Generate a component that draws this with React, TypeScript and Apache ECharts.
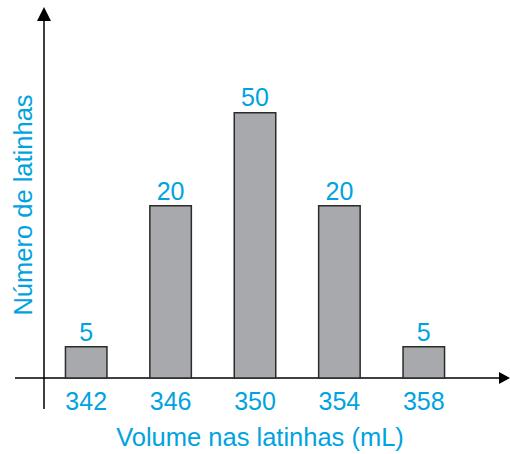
import React, { useEffect, useRef } from "react";
import * as echarts from "echarts";

const categories = ["342", "346", "350", "354", "358"];
const counts = [5, 20, 50, 20, 5];
const xTitle = "Volume nas latinhas (mL)";
const yTitle = "Número de latinhas";

const BLUE = "#00a3e0";
const FONT = "'Liberation Sans', Arial, Helvetica, sans-serif";

export default function App() {
  const ref = useRef<HTMLDivElement>(null);
  useEffect(() => {
    if (!ref.current) return;
    const chart = echarts.init(ref.current, null, { renderer: "svg" });
    chart.setOption({
      animation: false,
      backgroundColor: "#ffffff",
      grid: { left: 44, right: 44, top: 10, bottom: 76 },
      xAxis: {
        type: "category",
        data: categories,
        axisLine: { show: false },
        axisTick: { show: false },
        axisLabel: { color: BLUE, fontSize: 25, fontFamily: FONT, margin: 10 },
      },
      yAxis: {
        type: "log",
        min: 3.65,
        max: 136.4,
        show: false,
        splitLine: { show: false },
      },
      series: [
        {
          type: "bar",
          data: counts,
          barWidth: 43,
          clip: true,
          itemStyle: { color: "#a7a9ac", borderColor: "#2b2b2b", borderWidth: 1.5 },
          label: {
            show: true,
            position: "top",
            distance: 2,
            color: BLUE,
            fontSize: 25,
            fontFamily: FONT,
          },
        },
      ],
      graphic: [
        { type: "line", shape: { x1: 44, y1: 409, x2: 44, y2: 18 }, style: { stroke: "#000", lineWidth: 1.5 } },
        { type: "polygon", shape: { points: [[44, 7], [37, 21], [51, 21]] }, style: { fill: "#000" } },
        { type: "line", shape: { x1: 15, y1: 378, x2: 502, y2: 378 }, style: { stroke: "#000", lineWidth: 1.5 } },
        { type: "polygon", shape: { points: [[510, 378], [499, 372], [499, 384]] }, style: { fill: "#000" } },
        {
          type: "text",
          x: 260,
          y: 437,
          style: { text: xTitle, fill: BLUE, fontSize: 25.5, fontFamily: FONT, textAlign: "center", textVerticalAlign: "middle" },
        },
        {
          type: "text",
          x: 23,
          y: 205,
          rotation: Math.PI / 2,
          style: { text: yTitle, fill: BLUE, fontSize: 25.5, fontFamily: FONT, textAlign: "center", textVerticalAlign: "middle" },
        },
      ],
    });
    return () => chart.dispose();
  }, []);
  return (
    <div
      ref={ref}
      style={{ position: "fixed", left: 0, top: 0, width: 510, height: 454 }}
    />
  );
}
